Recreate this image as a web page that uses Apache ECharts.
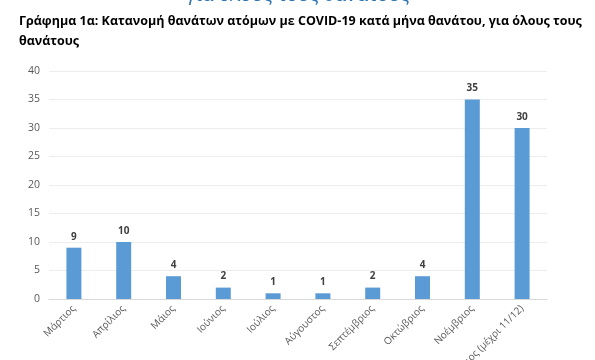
<!DOCTYPE html>
<html>
<head>
<meta charset="utf-8">
<script src="https://cdn.jsdelivr.net/npm/echarts@6/dist/echarts.min.js"></script>
<style>html,body{margin:0;padding:0;background:#fff}#c{width:595px;height:360px}</style>
</head>
<body>
<div id="c"></div>
<script>
const categories = ['Μάρτιος','Απρίλιος','Μάιος','Ιούνιος','Ιούλιος','Αύγουστος','Σεπτέμβριος','Οκτώβριος','Νοέμβριος','Δεκέμβριος (μέχρι 11/12)'];
const deaths = [9,10,4,2,1,1,2,4,35,30];
const yTicks = [0,5,10,15,20,25,30,35,40];
const titleLines = ['Γράφημα 1α: Κατανομή θανάτων ατόμων με COVID-19 κατά μήνα θανάτου, για όλους τους','θανάτους'];
const headingText = 'για όλους τους θανάτους';

const chart = echarts.init(document.getElementById('c'), null, {renderer:'canvas'});
chart.setOption({
  animation:false,
  backgroundColor:'#ffffff',
  graphic:[
    {type:'text', left:'center', top:-14, style:{text:headingText, font:'19px "Open Sans"', fill:'#2F75B5'}},
    {type:'text', left:19, top:11, style:{text:titleLines.join('\n'), font:'bold 12.5px "Open Sans"', fill:'#000', lineHeight:20}}
  ],
  grid:{left:49,right:48,top:71,bottom:61,outerBoundsMode:'none',containLabel:false},
  xAxis:{
    type:'category', data:categories,
    axisLine:{lineStyle:{color:'#D9D9D9'}},
    axisTick:{show:false},
    axisLabel:{rotate:45, interval:0, color:'#595959', fontSize:10, fontFamily:'Open Sans', margin:8}
  },
  yAxis:{
    type:'value', min:yTicks[0], max:yTicks[yTicks.length-1], interval:5,
    axisLine:{show:false}, axisTick:{show:false},
    splitLine:{lineStyle:{color:'#EDEDED'}},
    axisLabel:{color:'#595959', fontSize:10.5, fontFamily:'Open Sans', margin:9}
  },
  series:[{
    type:'bar', data:deaths, barWidth:15,
    itemStyle:{color:'#5B9BD5'},
    label:{show:true, position:'top', distance:6, color:'#404040', fontWeight:'bold', fontSize:10, fontFamily:'Open Sans'}
  }]
});
</script>
</body>
</html>
